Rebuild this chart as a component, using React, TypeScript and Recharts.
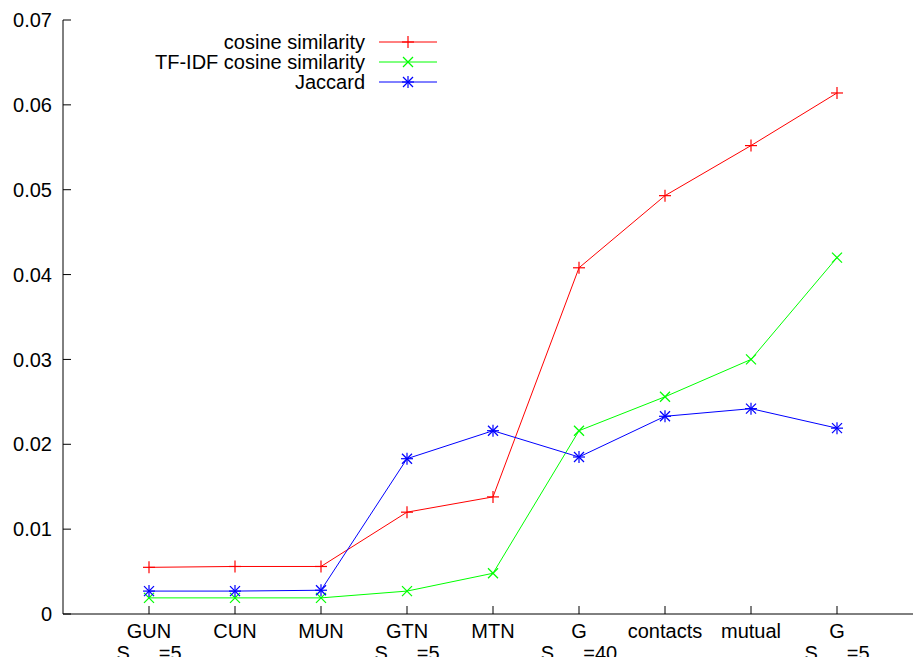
import React from 'react';
import { LineChart, Line, XAxis, YAxis, Legend } from 'recharts';

// x positions 1..9, one per method
const categories = ['GUN', 'CUN', 'MUN', 'GTN', 'MTN', 'G', 'contacts', 'mutual', 'G'];
// threshold shown on the second label line (empty = none)
const thresholds = ['5', '', '', '5', '', '40', '', '', '5'];

const cosine = [0.0055, 0.0056, 0.0056, 0.0120, 0.0138, 0.0408, 0.0493, 0.0552, 0.0614];
const tfidf = [0.0019, 0.0019, 0.0019, 0.0027, 0.0048, 0.0216, 0.0256, 0.0300, 0.0420];
const jaccard = [0.0027, 0.0027, 0.0028, 0.0183, 0.0216, 0.0185, 0.0233, 0.0242, 0.0219];

const yTicks = [0, 0.01, 0.02, 0.03, 0.04, 0.05, 0.06, 0.07];
const xTicks = [1, 2, 3, 4, 5, 6, 7, 8, 9];

const data = categories.map((c, i) => ({
  x: i + 1,
  cosine: cosine[i],
  tfidf: tfidf[i],
  jaccard: jaccard[i],
}));

const FONT = '"Liberation Sans", Arial, Helvetica, sans-serif';

type Shape = 'plus' | 'cross' | 'star';

const seriesOrder = ['cosine', 'tfidf', 'jaccard'];
const markerFor: Record<string, Shape> = {
  cosine: 'plus',
  tfidf: 'cross',
  jaccard: 'star',
};

function Marker({ cx, cy, shape, color }: { cx: number; cy: number; shape: Shape; color: string }) {
  const s = 5;
  const plus = (
    <>
      <line x1={cx - s - 1} y1={cy} x2={cx + s + 1} y2={cy} />
      <line x1={cx} y1={cy - s - 1} x2={cx} y2={cy + s + 1} />
    </>
  );
  const cross = (
    <>
      <line x1={cx - s} y1={cy - s} x2={cx + s} y2={cy + s} />
      <line x1={cx - s} y1={cy + s} x2={cx + s} y2={cy - s} />
    </>
  );
  return (
    <g stroke={color} strokeWidth={1.2} fill="none">
      {shape !== 'cross' && plus}
      {shape !== 'plus' && cross}
    </g>
  );
}

function makeDot(shape: Shape, color: string) {
  return (props: any) => {
    const { cx, cy, index } = props;
    if (cx == null || cy == null) return <g key={index} />;
    return <Marker key={index} cx={cx} cy={cy} shape={shape} color={color} />;
  };
}

function XTick(props: any) {
  const { x, y, payload } = props;
  const i = payload.value - 1;
  const thr = thresholds[i];
  return (
    <g fontFamily={FONT} fontSize={20} fill="#000">
      <text x={x} y={y + 24} textAnchor="middle">
        {categories[i]}
      </text>
      {thr && (
        <text x={x} y={y + 46} textAnchor="middle">
          S
          <tspan dy={14} fontSize={18}>
            min
          </tspan>
          <tspan dy={-14}>={thr}</tspan>
        </text>
      )}
    </g>
  );
}

function KeyBox(props: any) {
  const payload = [...(props.payload || [])].sort(
    (a: any, b: any) => seriesOrder.indexOf(a.dataKey) - seriesOrder.indexOf(b.dataKey)
  );
  return (
    <svg width={460} height={100} style={{ display: 'block' }}>
      {payload.map((entry: any, i: number) => {
        const cy = 42 + i * 20;
        const color = entry.color;
        const shape = markerFor[entry.dataKey] || 'plus';
        return (
          <g key={entry.value}>
            <text
              x={365}
              y={cy + 7}
              textAnchor="end"
              fontFamily={FONT}
              fontSize={20}
              fill="#000"
            >
              {entry.value}
            </text>
            <line x1={379} y1={cy} x2={437} y2={cy} stroke={color} strokeWidth={1} />
            <Marker cx={408} cy={cy} shape={shape} color={color} />
          </g>
        );
      })}
    </svg>
  );
}

export default function App() {
  return (
    <div
      style={{
        position: 'absolute',
        left: 0,
        top: 0,
        width: 913,
        height: 657,
        overflow: 'hidden',
        background: '#fff',
      }}
    >
      <LineChart
        width={940}
        height={657}
        data={data}
        margin={{ top: 20, right: 17, bottom: 0, left: 0 }}
      >
        <XAxis
          dataKey="x"
          type="number"
          domain={[0, 10]}
          ticks={xTicks}
          interval={0}
          height={43}
          stroke="#000"
          tickSize={-8}
          tickMargin={8}
          tick={<XTick />}
        />
        <XAxis
          xAxisId="top"
          orientation="top"
          dataKey="x"
          type="number"
          domain={[0, 10]}
          ticks={xTicks}
          interval={0}
          height={0}
          stroke="#000"
          tickSize={-8}
          tick={false}
        />
        <YAxis
          type="number"
          domain={[0, 0.07]}
          ticks={yTicks}
          interval={0}
          width={63}
          stroke="#000"
          tickSize={-8}
          tickMargin={19}
          tickFormatter={(v: number) => (v === 0 ? '0' : v.toFixed(2))}
          tick={{ fill: '#000', fontSize: 20, fontFamily: FONT }}
        />
        <Legend
          layout="horizontal"
          verticalAlign="middle"
          align="center"
          wrapperStyle={{ left: 0, top: 0, width: 460, height: 100 }}
          content={<KeyBox />}
        />
        <Line
          dataKey="cosine"
          name="cosine similarity"
          stroke="#ff0000"
          strokeWidth={1}
          dot={makeDot('plus', '#ff0000')}
          activeDot={false}
          isAnimationActive={false}
        />
        <Line
          dataKey="tfidf"
          name="TF-IDF cosine similarity"
          stroke="#00ff00"
          strokeWidth={1}
          dot={makeDot('cross', '#00ff00')}
          activeDot={false}
          isAnimationActive={false}
        />
        <Line
          dataKey="jaccard"
          name="Jaccard"
          stroke="#0000ff"
          strokeWidth={1}
          dot={makeDot('star', '#0000ff')}
          activeDot={false}
          isAnimationActive={false}
        />
      </LineChart>
    </div>
  );
}
